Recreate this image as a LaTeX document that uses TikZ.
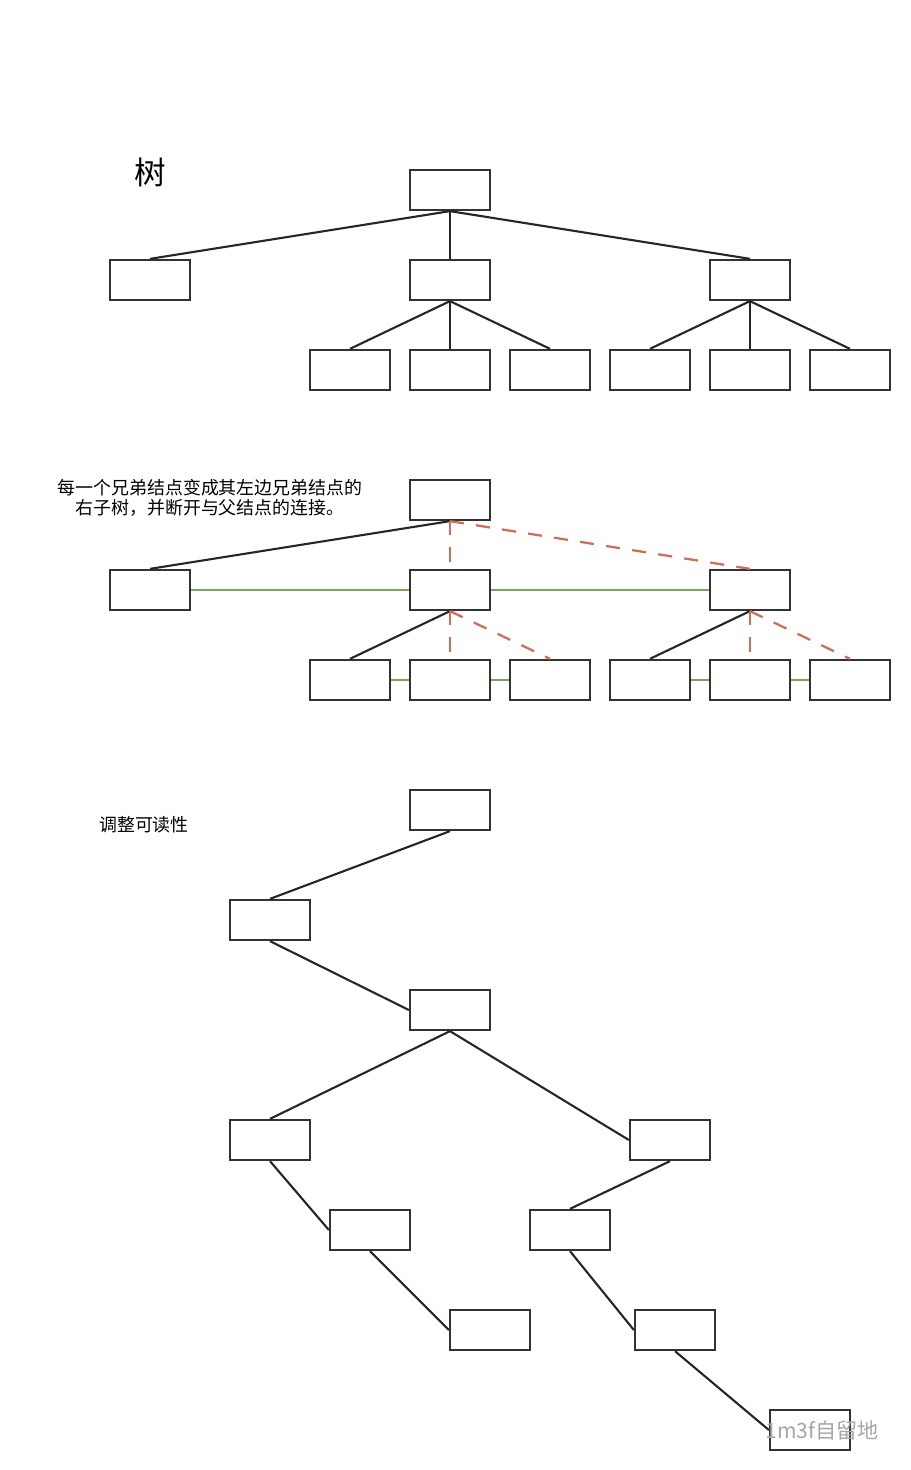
\documentclass[tikz,border=0pt]{standalone}
\usepackage{fontspec}
\setmainfont{Noto Sans CJK SC}
\usepackage{xcolor}
\usepackage{tikz}
\definecolor{cutred}{HTML}{CF6E58}
\definecolor{linkgreen}{HTML}{7BA25E}

\begin{document}
\begin{tikzpicture}[x=0.02cm, y=-0.02cm, node distance=2cm,
    box/.style={rectangle, draw=black!80, line width=1.3pt, fill=white, minimum width=1.6cm, minimum height=0.8cm, inner sep=0pt},
    line/.style={draw=black!85, line width=1.2pt},
    cut/.style={draw=cutred, line width=1.3pt, dash pattern=on 8pt off 7pt},
    link/.style={draw=linkgreen, line width=1.3pt},
    label/.style={font=\fontsize{10.2}{11.5}\selectfont, align=center}]

    \useasboundingbox (0,0) rectangle (910,1470);

    % Titles
    \node [font=\fontsize{18}{20}\selectfont] (title) at (150,172) {树};
    \node [label] (note) at (210,498) {每一个兄弟结点变成其左边兄弟结点的\\右子树，并断开与父结点的连接。};
    \node [label] (tidy) at (144,825) {调整可读性};

    % Nodes: tree
    \node [box] (top) at (450,190) {};
    \node [box, below of=top, node distance=1.8cm] (tb) {};
    \node [box, left of=tb, node distance=6cm] (ta) {};
    \node [box, right of=tb, node distance=6cm] (tc) {};
    \node [box, below of=tb, node distance=1.8cm] (tb2) {};
    \node [box, left of=tb2] (tb1) {};
    \node [box, right of=tb2] (tb3) {};
    \node [box, below of=tc, node distance=1.8cm] (tc2) {};
    \node [box, left of=tc2] (tc1) {};
    \node [box, right of=tc2] (tc3) {};

    % Nodes: sibling links
    \node [box] (mid) at (450,500) {};
    \node [box, below of=mid, node distance=1.8cm] (mb) {};
    \node [box, left of=mb, node distance=6cm] (ma) {};
    \node [box, right of=mb, node distance=6cm] (mc) {};
    \node [box, below of=mb, node distance=1.8cm] (mb2) {};
    \node [box, left of=mb2] (mb1) {};
    \node [box, right of=mb2] (mb3) {};
    \node [box, below of=mc, node distance=1.8cm] (mc2) {};
    \node [box, left of=mc2] (mc1) {};
    \node [box, right of=mc2] (mc3) {};

    % Nodes: binary tree
    \node [box] (bot) at (450,810) {};
    \node [box] (n1) at (270,920) {};
    \node [box] (n2) at (450,1010) {};
    \node [box] (n3) at (270,1140) {};
    \node [box] (n4) at (670,1140) {};
    \node [box] (n5) at (370,1230) {};
    \node [box] (n6) at (490,1330) {};
    \node [box] (n7) at (570,1230) {};
    \node [box] (n8) at (675,1330) {};
    \node [box] (n9) at (810,1430) {};

    % Paths: tree
    \path [line] (top.south) -- (ta.north);
    \path [line] (top.south) -- (tb.north);
    \path [line] (top.south) -- (tc.north);
    \path [line] (tb.south) -- (tb1.north);
    \path [line] (tb.south) -- (tb2.north);
    \path [line] (tb.south) -- (tb3.north);
    \path [line] (tc.south) -- (tc1.north);
    \path [line] (tc.south) -- (tc2.north);
    \path [line] (tc.south) -- (tc3.north);

    % Paths: sibling links
    \path [line] (mid.south) -- (ma.north);
    \path [cut] (mid.south) -- (mb.north);
    \path [cut] (mid.south) -- (mc.north);
    \path [link] (ma.east) -- (mb.west);
    \path [link] (mb.east) -- (mc.west);
    \path [line] (mb.south) -- (mb1.north);
    \path [cut] (mb.south) -- (mb2.north);
    \path [cut] (mb.south) -- (mb3.north);
    \path [link] (mb1.east) -- (mb2.west);
    \path [link] (mb2.east) -- (mb3.west);
    \path [line] (mc.south) -- (mc1.north);
    \path [cut] (mc.south) -- (mc2.north);
    \path [cut] (mc.south) -- (mc3.north);
    \path [link] (mc1.east) -- (mc2.west);
    \path [link] (mc2.east) -- (mc3.west);

    % Paths: binary tree
    \path [line] (bot.south) -- (n1.north);
    \path [line] (n1.south) -- (n2.west);
    \path [line] (n2.south) -- (n3.north);
    \path [line] (n2.south) -- (n4.west);
    \path [line] (n3.south) -- (n5.west);
    \path [line] (n4.south) -- (n7.north);
    \path [line] (n5.south) -- (n6.west);
    \path [line] (n7.south) -- (n8.west);
    \path [line] (n8.south) -- (n9.west);

    % Watermark
    \node [font=\fontsize{12}{14}\selectfont, text=black!35] (mark) at (822,1430) {1m3f自留地};

\end{tikzpicture}
\end{document}
